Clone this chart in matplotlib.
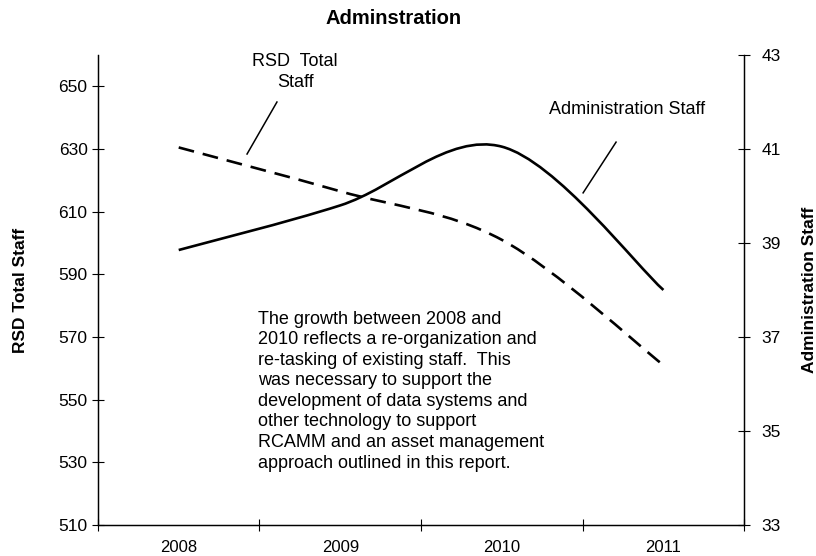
import matplotlib
matplotlib.use("Agg")
import matplotlib.pyplot as plt
from matplotlib.path import Path
from matplotlib.patches import PathPatch

plt.rcParams['font.family'] = ['Liberation Sans', 'DejaVu Sans']

years = ['2008', '2009', '2010', '2011']
rsd_total = [630.5, 616.5, 601, 561]
admin_staff = [38.85, 39.8, 41.05, 38.0]

note = ("The growth between 2008 and\n"
        "2010 reflects a re-organization and\n"
        "re-tasking of existing staff.  This\n"
        "was necessary to support the\n"
        "development of data systems and\n"
        "other technology to support\n"
        "RCAMM and an asset management\n"
        "approach outlined in this report.")


def smooth_path(xs, ys):
    # excel style smoothed line: bezier segments through every point
    pts = list(zip(xs, ys))
    verts = [pts[0]]
    codes = [Path.MOVETO]
    n = len(pts)
    for i in range(n - 1):
        p0 = pts[i - 1] if i > 0 else pts[i]
        p1 = pts[i]
        p2 = pts[i + 1]
        p3 = pts[i + 2] if i + 2 < n else pts[i + 1]
        c1 = (p1[0] + (p2[0] - p0[0]) / 6, p1[1] + (p2[1] - p0[1]) / 6)
        c2 = (p2[0] - (p3[0] - p1[0]) / 6, p2[1] - (p3[1] - p1[1]) / 6)
        verts += [c1, c2, p2]
        codes += [Path.CURVE4] * 3
    return Path(verts, codes)


fig = plt.figure(figsize=(8.16, 5.56), dpi=100)
ax = fig.add_axes([0.120, 0.056, 0.792, 0.845])
ax2 = ax.twinx()

x = list(range(len(years)))
ax.add_patch(PathPatch(smooth_path(x, rsd_total), fill=False, color='black',
                       lw=1.9, linestyle=(0, (6, 3.4)), capstyle='butt'))
ax2.add_patch(PathPatch(smooth_path(x, admin_staff), fill=False, color='black',
                        lw=1.9))

ax.set_xlim(-0.5, 3.5)
ax.set_ylim(510, 660)
ax2.set_ylim(33, 43)
ax.set_yticks(range(510, 651, 20))
ax2.set_yticks(range(33, 44, 2))
ax.set_xticks(x)
ax.set_xticklabels(years)
ax.set_xticks([-0.5, 0.5, 1.5, 2.5, 3.5], minor=True)
ax.tick_params(axis='x', which='major', length=0, pad=11, labelsize=12)
ax.tick_params(axis='x', which='minor', direction='inout', length=9, width=0.8)
ax.tick_params(axis='y', direction='inout', length=9, width=0.8, labelsize=12.5, pad=3)
ax2.tick_params(axis='y', direction='inout', length=9, width=0.8, labelsize=12.5, pad=8)

for a in (ax, ax2):
    a.spines['top'].set_visible(False)
    for s in ('left', 'right', 'bottom'):
        a.spines[s].set_linewidth(0.9)

ax.set_ylabel('RSD Total Staff', fontsize=12.5, fontweight='bold', labelpad=22)
ax2.set_ylabel('Administration Staff', fontsize=12.5, fontweight='bold', labelpad=15)
fig.text(0.482, 0.967, 'Adminstration', ha='center', va='center',
         fontsize=14.5, fontweight='bold')

# series labels with leader lines
ax.text(0.72, 654.5, 'RSD  Total\nStaff', ha='center', va='center', fontsize=13,
        linespacing=1.3)
ax.plot([0.608, 0.423], [645.0, 628.4], color='black', lw=1.1)
ax.text(2.776, 642.5, 'Administration Staff', ha='center', va='center', fontsize=13)
ax.plot([2.707, 2.503], [632.2, 616.0], color='black', lw=1.1)

ax.text(0.49, 578.3, note, ha='left', va='top', fontsize=13, linespacing=1.27)

fig.savefig('out.png', dpi=100)
